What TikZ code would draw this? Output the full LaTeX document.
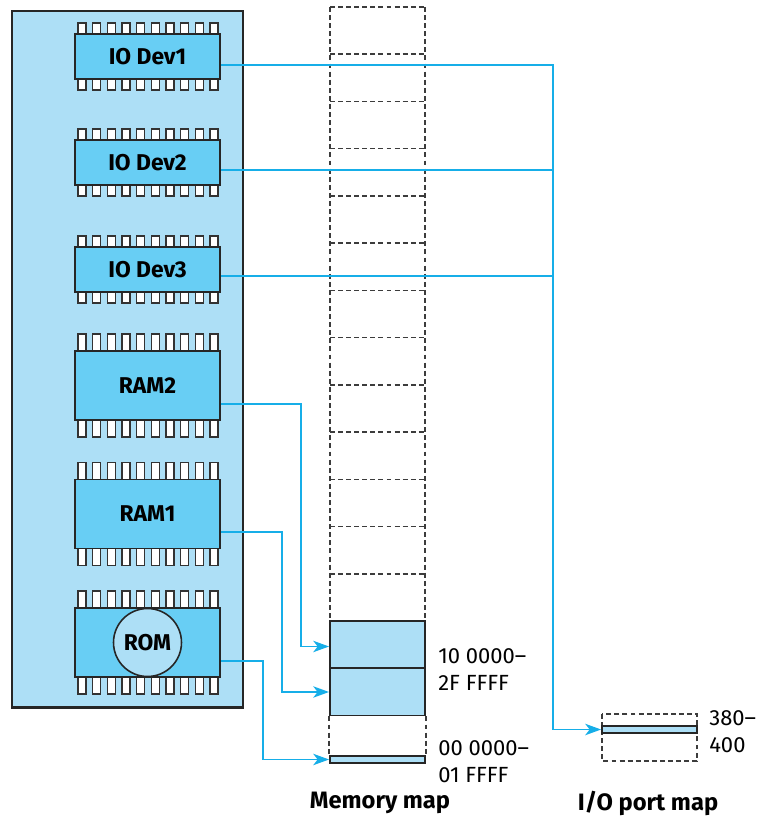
\documentclass[tikz,border=0pt]{standalone}
\usepackage{fontspec}
\setmainfont{Fira Sans}
\usetikzlibrary{arrows.meta,calc,positioning}
\definecolor{boardc}{RGB}{173,223,246}
\definecolor{chipc}{RGB}{104,206,244}
\definecolor{wirec}{RGB}{22,174,232}
\definecolor{dashc}{RGB}{60,60,60}
\tikzset{
  board/.style={draw=black!85,fill=boardc,line width=1.7pt},
  pin/.style={draw=black!80,fill=white,line width=0.8pt},
  chipbody/.style={draw=black!85,fill=chipc,line width=1.1pt,minimum width=2.9cm,inner sep=0pt,font=\fontsize{13}{15}\selectfont\bfseries},
  romdisc/.style={circle,draw=black!85,fill=boardc,line width=0.9pt,minimum size=1.36cm,inner sep=0pt,font=\fontsize{13}{15}\selectfont\bfseries},
  cell/.style={draw=dashc,line width=0.9pt,dash pattern=on 2.8pt off 1.8pt},
  memcell/.style={draw=black!85,fill=boardc,line width=1.1pt,minimum width=1.9cm,inner sep=0pt},
  wire/.style={draw=wirec,line width=0.8pt},
  arrow/.style={wire,-{Stealth[length=9pt,width=6.5pt,inset=2.5pt]}},
  addr/.style={align=left,inner sep=0pt,font=\fontsize{12.5}{15.4}\selectfont},
  title/.style={font=\fontsize{13.5}{15}\selectfont\bfseries}
}
\newcommand{\chip}[5]{% name, centre, body height, pin length, label
  \begin{scope}[shift={(#2)}]
    \foreach \i in {0,...,9}
      \draw[pin] (-69.5+14.67*\i,-#3/2-#4) rectangle ++(8,#3+2*#4);
    \node[chipbody,minimum height=#3*0.02cm] (#1) at (0,0) {#5};
  \end{scope}}

\begin{document}
\begin{tikzpicture}[x=0.02cm,y=-0.02cm]
\useasboundingbox (0,0) rectangle (758,819);
\draw[board] (12,11) rectangle (243,707);
% chips on the board
\chip{io1}{147.5,56.5}{45}{11}{IO Dev1}
\chip{io2}{147.5,162.5}{45}{11}{IO Dev2}
\chip{io3}{147.5,269.5}{45}{11}{IO Dev3}
\chip{ram2}{147.5,385.5}{69}{17}{RAM2}
\chip{ram1}{147.5,514}{69}{17}{RAM1}
\chip{rom}{147.5,642.5}{69}{17}{}
\node[romdisc] (romlbl) at (rom.center) {ROM};
% memory map
\draw[cell] (330,7) -- (330,621) (425,7) -- (425,621);
\foreach \i in {0,...,12}
  \draw[cell] (330,7+47.23*\i) -- ++(95,0);
\node[memcell,minimum height=0.94cm] (mram2) at (377.5,644.5) {};
\node[memcell,minimum height=0.94cm] (mram1) at (377.5,692) {};
\node[memcell,minimum height=0.14cm] (mrom) at (377.5,759.5) {};
\draw[cell] (mram1.south west) -- (mrom.north west);
\draw[cell] (mram1.south east) -- (mrom.north east);
\node[addr,anchor=west] (adr1) at ($(mram1.north east)+(12,2)$) {10 0000–\\2F FFFF};
\node[addr,anchor=west] (adr0) at ($(mrom.east)+(12,2)$) {00 0000–\\01 FFFF};
\node[title] (mtitle) at (380,803) {Memory map};
% I/O port map
\draw[cell] (602,714) rectangle (697,761);
\node[memcell,minimum height=0.14cm] (ioport) at (649.5,729.5) {};
\node[addr,anchor=west] (adrio) at ($(ioport.east)+(11,2)$) {380–\\400};
\node[title] (iotitle) at (648,803) {I/O port map};
% connections
\coordinate (bus) at (553,0);
\coordinate (p1) at ($(io1.east)+(0,8.5)$);
\coordinate (p2) at ($(io2.east)+(0,7.5)$);
\coordinate (p3) at ($(io3.east)+(0,6.5)$);
\draw[arrow] (p1) -- (p1 -| bus) |- (ioport.west);
\draw[wire] (p2) -- (p2 -| bus);
\draw[wire] (p3) -- (p3 -| bus);
\draw[arrow] ($(ram2.east)+(0,18.5)$) -- ++(80,0) |- ($(mram2.west)+(0,2)$);
\draw[arrow] ($(ram1.east)+(0,18)$) -- ++(61,0) |- (mram1.west);
\draw[arrow] ($(rom.east)+(0,18.5)$) -- ++(42,0) |- (mrom.west);
\end{tikzpicture}
\end{document}
